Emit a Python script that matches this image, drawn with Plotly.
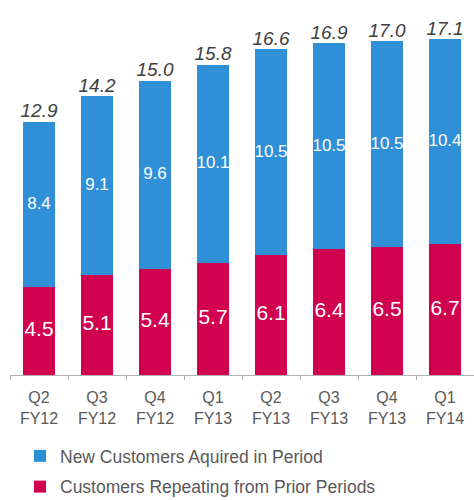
import plotly.graph_objects as go

quarters = ["Q2<br>FY12", "Q3<br>FY12", "Q4<br>FY12", "Q1<br>FY13",
            "Q2<br>FY13", "Q3<br>FY13", "Q4<br>FY13", "Q1<br>FY14"]
repeating = [4.5, 5.1, 5.4, 5.7, 6.1, 6.4, 6.5, 6.7]
new_customers = [8.4, 9.1, 9.6, 10.1, 10.5, 10.5, 10.5, 10.4]
totals = [12.9, 14.2, 15.0, 15.8, 16.6, 16.9, 17.0, 17.1]

BLUE = "#2f8fd7"
PINK = "#d0024f"
FONT = "Liberation Sans, Arial, sans-serif"

fig = go.Figure()
fig.add_trace(go.Bar(x=quarters, y=repeating, name="Customers Repeating from Prior Periods",
                     marker=dict(color=PINK, line=dict(width=0)), legendgroup="b",
                     legendrank=2, hoverinfo="skip"))
fig.add_trace(go.Bar(x=quarters, y=new_customers, name="New Customers Aquired in Period",
                     marker=dict(color=BLUE, line=dict(width=0)), legendgroup="a",
                     legendrank=1, hoverinfo="skip"))

# inside labels
fig.add_trace(go.Scatter(x=quarters, y=[r / 2 for r in repeating], mode="text",
                         text=[f"{v:.1f}" for v in repeating],
                         textfont=dict(color="white", size=21, family=FONT),
                         showlegend=False, hoverinfo="skip", cliponaxis=False))
fig.add_trace(go.Scatter(x=quarters, y=[r + n / 2 for r, n in zip(repeating, new_customers)],
                         mode="text", text=[f"{v:.1f}" for v in new_customers],
                         textfont=dict(color="white", size=17, family=FONT),
                         showlegend=False, hoverinfo="skip", cliponaxis=False))
# totals
fig.add_trace(go.Scatter(x=quarters, y=totals, mode="text",
                         text=[f"<i>{v:.1f}</i>" for v in totals],
                         textposition="top center",
                         textfont=dict(color="#404040", size=19, family=FONT),
                         showlegend=False, hoverinfo="skip", cliponaxis=False))

fig.update_layout(
    width=474, height=500,
    margin=dict(l=10, r=0, t=12, b=125, autoexpand=False),
    barmode="stack", bargap=0.45,
    plot_bgcolor="white", paper_bgcolor="white",
    font=dict(family=FONT, color="#595959", size=16),
    showlegend=True,
    legend=dict(traceorder="grouped", tracegroupgap=5,
                orientation="v", x=10 / 464, xanchor="left",
                y=-(63 / 363), yanchor="top",
                font=dict(size=17.5, color="#595959", family=FONT),
                bgcolor="rgba(0,0,0,0)"),
    xaxis=dict(showline=True, linecolor="#b0b0b0", linewidth=1,
               ticks="outside", tickson="boundaries", ticklen=4, tickcolor="#b0b0b0",
               ticklabelstandoff=8,
               tickfont=dict(size=16, color="#595959", family=FONT),
               showgrid=False, fixedrange=True),
    yaxis=dict(range=[0, 18.5], visible=False, showgrid=False, fixedrange=True),
)

fig.write_html("out.html",
               config={"displayModeBar": False, "staticPlot": True},
               post_script="document.body.style.margin='0';"
                           "document.documentElement.style.overflow='hidden';")
